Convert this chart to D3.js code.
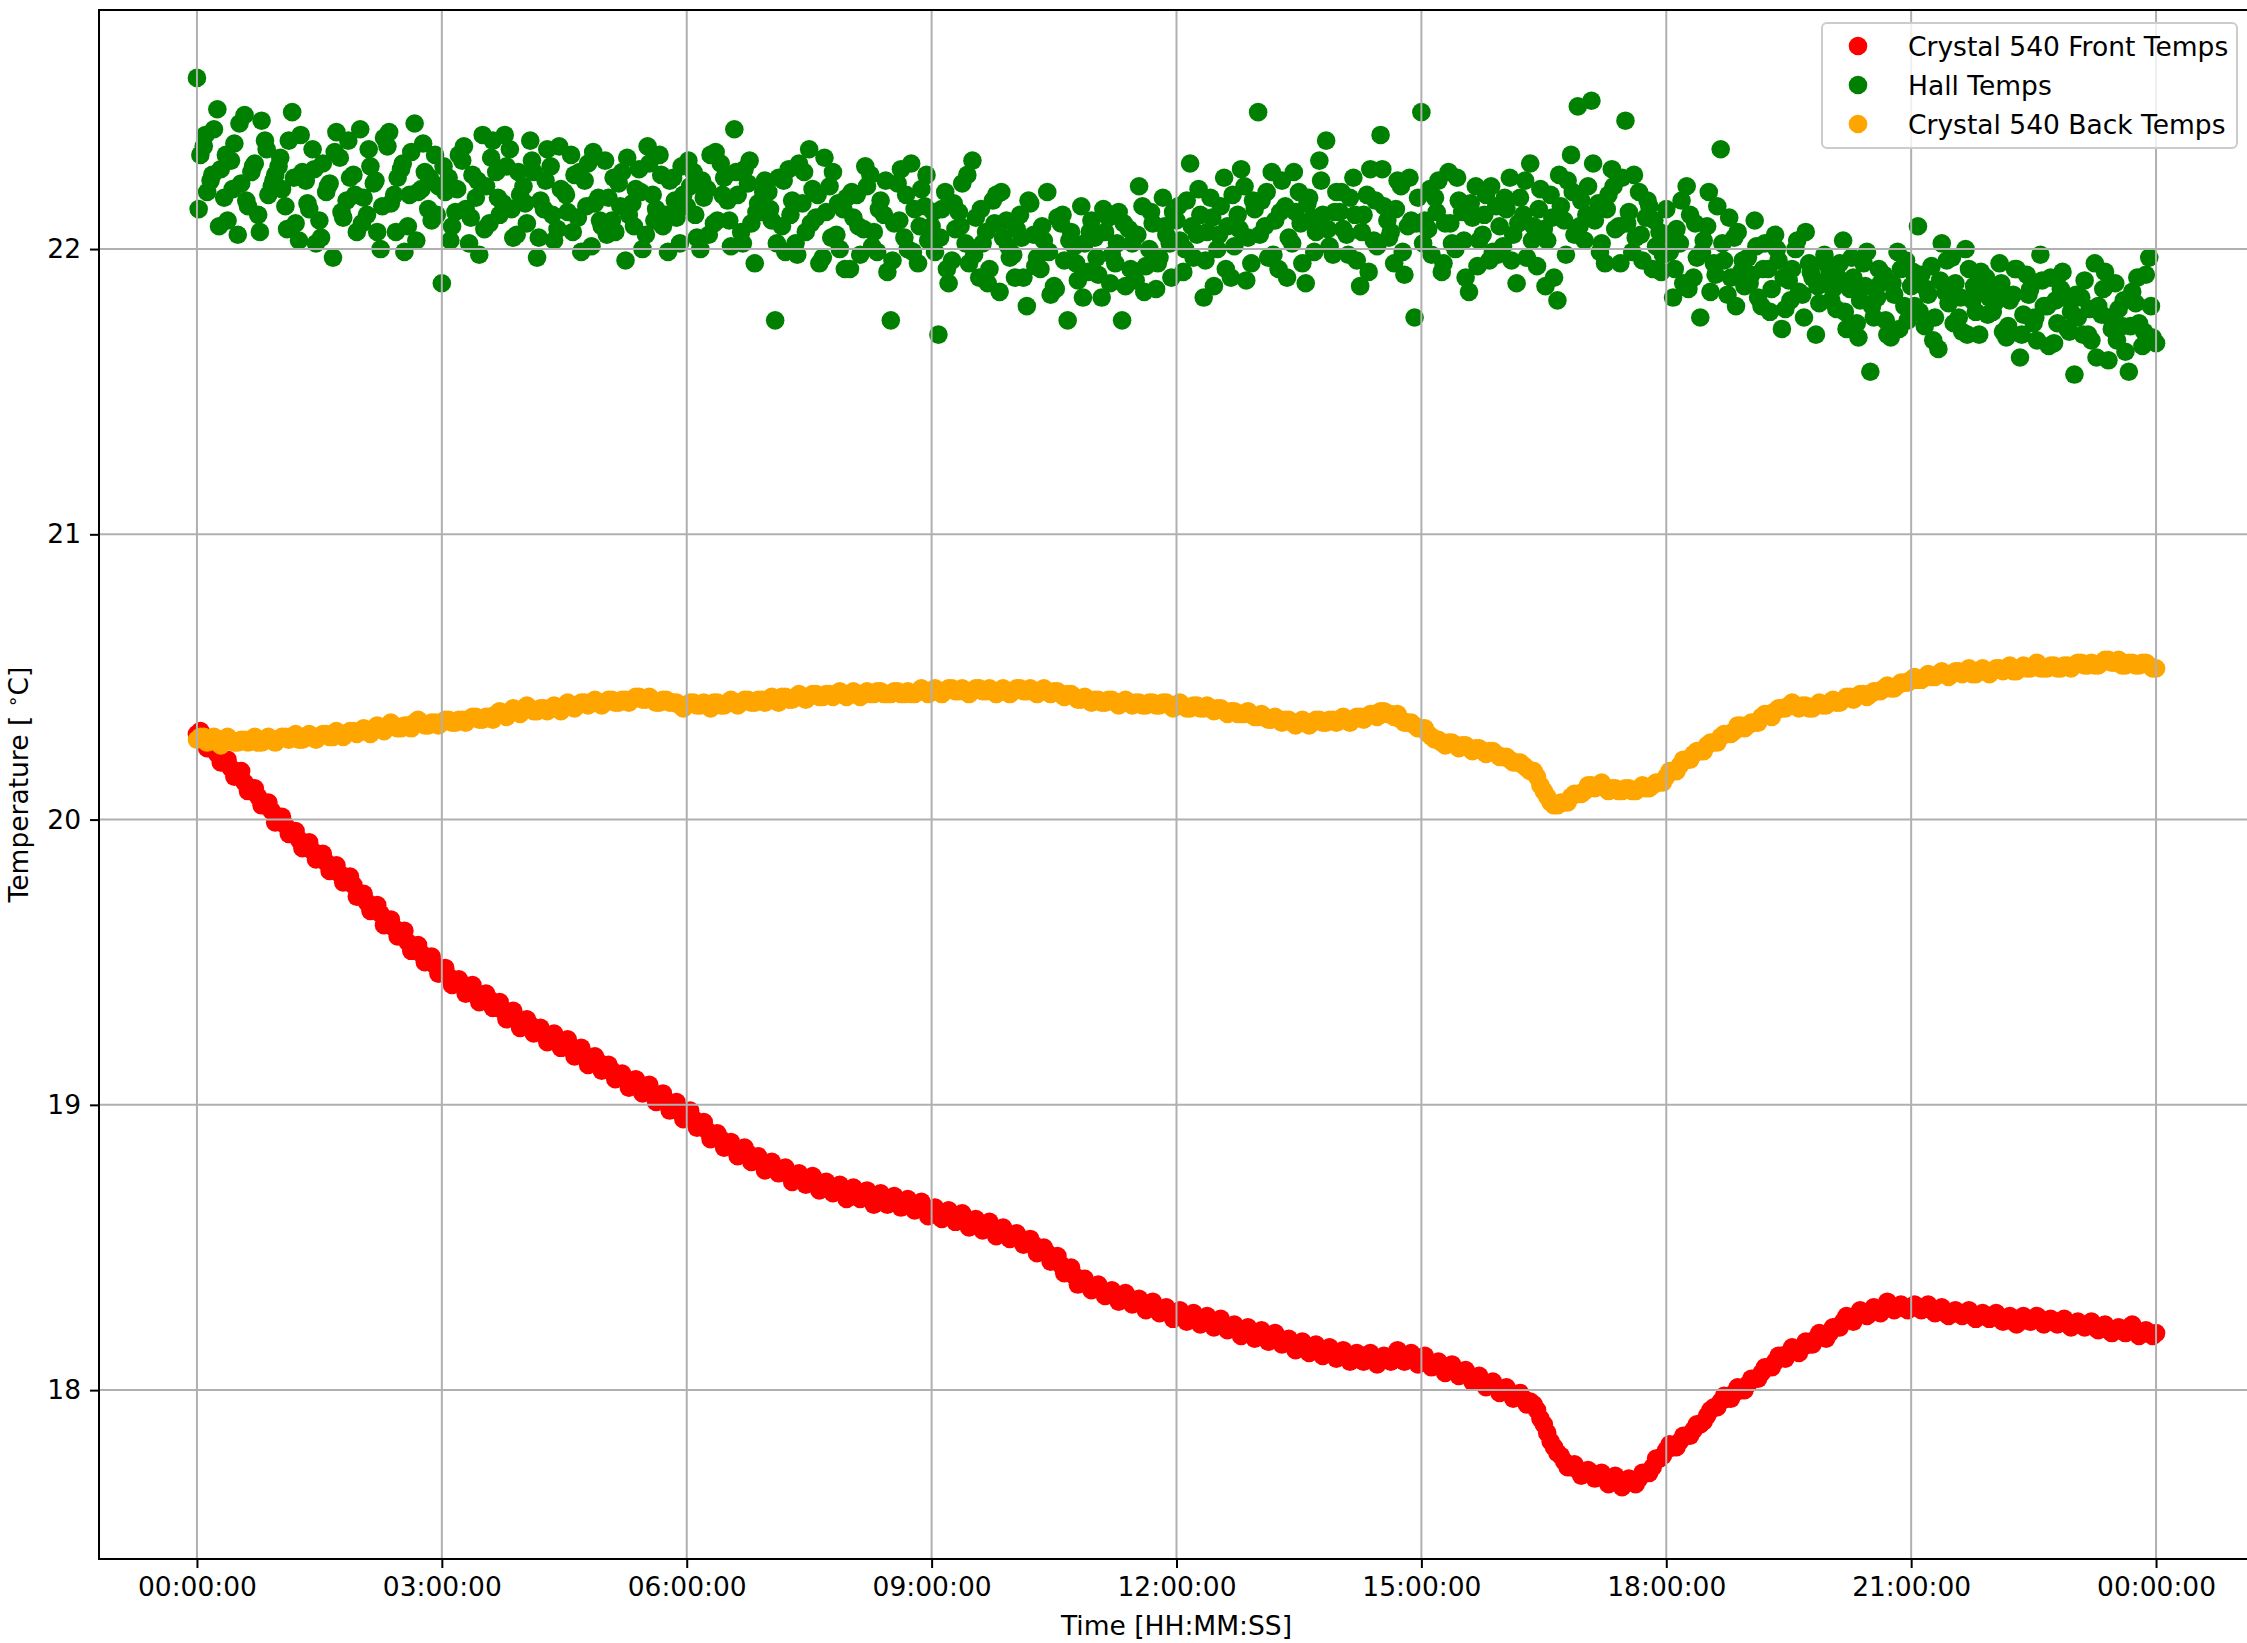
<!DOCTYPE html>
<html>
<head>
<meta charset="utf-8">
<script src="https://cdn.jsdelivr.net/npm/d3@7"></script>
<style>
  body { margin: 0; background: #fff; }
  svg { display: block; font-family: "DejaVu Sans", sans-serif; }
</style>
</head>
<body>
<div id="chart"></div>
<script>
// front crystal, one reading every 5 minutes, 00:00 -> 24:00 (one row per hour)
var frontTemps = [
  20.30, 20.28, 20.25, 20.23, 20.20, 20.18, 20.16, 20.13, 20.11, 20.08, 20.05, 20.03,
  20.00, 19.98, 19.95, 19.93, 19.91, 19.89, 19.87, 19.85, 19.83, 19.81, 19.79, 19.77,
  19.73, 19.71, 19.69, 19.67, 19.64, 19.62, 19.60, 19.57, 19.55, 19.53, 19.51, 19.49,
  19.47, 19.45, 19.43, 19.42, 19.41, 19.39, 19.38, 19.37, 19.35, 19.33, 19.32, 19.30,
  19.29, 19.28, 19.26, 19.25, 19.24, 19.23, 19.22, 19.20, 19.19, 19.17, 19.16, 19.15,
  19.13, 19.12, 19.10, 19.09, 19.08, 19.07, 19.06, 19.04, 19.03, 19.01, 19.00, 18.98,
  18.97, 18.95, 18.93, 18.91, 18.89, 18.88, 18.86, 18.85, 18.84, 18.83, 18.81, 18.80,
  18.79, 18.78, 18.77, 18.76, 18.75, 18.74, 18.74, 18.73, 18.72, 18.71, 18.70, 18.70,
  18.69, 18.69, 18.68, 18.68, 18.67, 18.67, 18.67, 18.66, 18.66, 18.65, 18.65, 18.64,
  18.63, 18.62, 18.62, 18.61, 18.60, 18.60, 18.59, 18.58, 18.57, 18.57, 18.56, 18.55,
  18.54, 18.53, 18.52, 18.51, 18.49, 18.48, 18.46, 18.44, 18.42, 18.40, 18.38, 18.37,
  18.36, 18.35, 18.34, 18.33, 18.32, 18.32, 18.31, 18.30, 18.30, 18.29, 18.28, 18.27,
  18.26, 18.26, 18.25, 18.25, 18.25, 18.24, 18.24, 18.23, 18.22, 18.21, 18.21, 18.20,
  18.20, 18.19, 18.18, 18.18, 18.17, 18.16, 18.16, 18.15, 18.15, 18.14, 18.14, 18.13,
  18.13, 18.12, 18.12, 18.12, 18.11, 18.11, 18.11, 18.11, 18.12, 18.12, 18.12, 18.11,
  18.11, 18.10, 18.09, 18.08, 18.07, 18.07, 18.06, 18.05, 18.04, 18.03, 18.02, 18.01,
  18.00, 17.99, 17.98, 17.97, 17.96, 17.93, 17.88, 17.82, 17.78, 17.75, 17.73, 17.72,
  17.71, 17.71, 17.70, 17.69, 17.69, 17.68, 17.68, 17.68, 17.69, 17.71, 17.73, 17.76,
  17.79, 17.80, 17.82, 17.84, 17.86, 17.88, 17.91, 17.94, 17.96, 17.97, 17.99, 18.00,
  18.02, 18.04, 18.06, 18.08, 18.10, 18.12, 18.13, 18.14, 18.15, 18.16, 18.18, 18.19,
  18.20, 18.22, 18.24, 18.25, 18.26, 18.27, 18.27, 18.28, 18.29, 18.29, 18.29, 18.29,
  18.29, 18.29, 18.29, 18.28, 18.28, 18.27, 18.27, 18.27, 18.27, 18.26, 18.26, 18.26,
  18.26, 18.25, 18.25, 18.24, 18.24, 18.25, 18.25, 18.25, 18.24, 18.24, 18.24, 18.23,
  18.23, 18.23, 18.23, 18.22, 18.22, 18.21, 18.21, 18.21, 18.22, 18.21, 18.20, 18.20,
  18.20
];
// front crystal, readings in between (2.5 minutes later)
var frontTempsMid = [
  20.31, 20.25, 20.26, 20.20, 20.21, 20.15, 20.17, 20.10, 20.11, 20.05, 20.06, 19.99,
  20.01, 19.95, 19.96, 19.90, 19.92, 19.86, 19.88, 19.82, 19.84, 19.78, 19.80, 19.73,
  19.74, 19.68, 19.70, 19.63, 19.65, 19.59, 19.61, 19.54, 19.56, 19.50, 19.52, 19.46,
  19.48, 19.42, 19.44, 19.39, 19.42, 19.36, 19.39, 19.34, 19.36, 19.30, 19.33, 19.27,
  19.30, 19.25, 19.27, 19.22, 19.25, 19.20, 19.23, 19.17, 19.20, 19.14, 19.17, 19.12,
  19.14, 19.09, 19.11, 19.06, 19.09, 19.04, 19.07, 19.01, 19.04, 18.98, 19.01, 18.95,
  18.98, 18.92, 18.94, 18.88, 18.90, 18.85, 18.87, 18.82, 18.85, 18.80, 18.82, 18.77,
  18.80, 18.76, 18.78, 18.73, 18.76, 18.72, 18.75, 18.70, 18.73, 18.69, 18.72, 18.67,
  18.71, 18.67, 18.70, 18.65, 18.69, 18.65, 18.68, 18.64, 18.67, 18.63, 18.66, 18.61,
  18.64, 18.60, 18.63, 18.59, 18.62, 18.57, 18.60, 18.56, 18.59, 18.54, 18.57, 18.53,
  18.55, 18.51, 18.53, 18.48, 18.50, 18.45, 18.47, 18.41, 18.43, 18.37, 18.39, 18.35,
  18.37, 18.33, 18.35, 18.31, 18.34, 18.30, 18.32, 18.28, 18.31, 18.27, 18.29, 18.25,
  18.28, 18.24, 18.27, 18.23, 18.26, 18.22, 18.25, 18.21, 18.23, 18.19, 18.22, 18.18,
  18.21, 18.17, 18.20, 18.16, 18.18, 18.14, 18.17, 18.13, 18.16, 18.12, 18.15, 18.11,
  18.14, 18.10, 18.13, 18.10, 18.13, 18.09, 18.12, 18.10, 18.14, 18.10, 18.13, 18.09,
  18.12, 18.08, 18.10, 18.06, 18.09, 18.05, 18.07, 18.03, 18.05, 18.01, 18.03, 17.99,
  18.01, 17.97, 17.99, 17.95, 17.95, 17.90, 17.85, 17.80, 17.77, 17.73, 17.74, 17.70,
  17.72, 17.69, 17.71, 17.67, 17.70, 17.66, 17.69, 17.67, 17.71, 17.71, 17.76, 17.77,
  17.81, 17.80, 17.84, 17.84, 17.88, 17.89, 17.93, 17.94, 17.98, 17.97, 18.01, 18.00,
  18.04, 18.04, 18.08, 18.08, 18.12, 18.11, 18.15, 18.13, 18.17, 18.16, 18.20, 18.18,
  18.22, 18.22, 18.26, 18.24, 18.28, 18.26, 18.29, 18.27, 18.31, 18.28, 18.30, 18.28,
  18.30, 18.28, 18.30, 18.27, 18.29, 18.26, 18.28, 18.26, 18.28, 18.25, 18.27, 18.25,
  18.27, 18.24, 18.26, 18.23, 18.26, 18.24, 18.26, 18.23, 18.25, 18.23, 18.25, 18.22,
  18.24, 18.22, 18.24, 18.21, 18.23, 18.20, 18.22, 18.20, 18.23, 18.19, 18.21, 18.19
];

// back crystal, every 5 minutes
var backTemps = [
  20.28, 20.29, 20.28, 20.27, 20.28, 20.28, 20.27, 20.28, 20.28, 20.27, 20.28, 20.28,
  20.28, 20.29, 20.29, 20.28, 20.29, 20.29, 20.29, 20.30, 20.29, 20.30, 20.30, 20.31,
  20.31, 20.31, 20.32, 20.32, 20.33, 20.33, 20.32, 20.33, 20.34, 20.34, 20.33, 20.34,
  20.34, 20.35, 20.34, 20.35, 20.35, 20.36, 20.35, 20.36, 20.37, 20.37, 20.38, 20.38,
  20.39, 20.39, 20.38, 20.39, 20.39, 20.39, 20.40, 20.40, 20.40, 20.41, 20.41, 20.41,
  20.41, 20.42, 20.41, 20.42, 20.42, 20.43, 20.42, 20.42, 20.41, 20.42, 20.41, 20.40,
  20.40, 20.41, 20.40, 20.40, 20.41, 20.40, 20.41, 20.41, 20.41, 20.42, 20.41, 20.42,
  20.42, 20.42, 20.43, 20.42, 20.43, 20.43, 20.43, 20.44, 20.43, 20.44, 20.44, 20.44,
  20.44, 20.44, 20.44, 20.44, 20.45, 20.44, 20.44, 20.45, 20.44, 20.44, 20.45, 20.45,
  20.45, 20.45, 20.45, 20.46, 20.45, 20.45, 20.45, 20.46, 20.45, 20.45, 20.45, 20.45,
  20.45, 20.46, 20.45, 20.45, 20.45, 20.45, 20.45, 20.44, 20.44, 20.43, 20.42, 20.42,
  20.42, 20.41, 20.42, 20.41, 20.41, 20.41, 20.41, 20.40, 20.41, 20.40, 20.41, 20.40,
  20.40, 20.40, 20.39, 20.40, 20.39, 20.39, 20.39, 20.38, 20.38, 20.37, 20.37, 20.37,
  20.36, 20.36, 20.35, 20.35, 20.35, 20.34, 20.34, 20.34, 20.34, 20.35, 20.34, 20.35,
  20.35, 20.35, 20.35, 20.36, 20.36, 20.37, 20.38, 20.37, 20.36, 20.35, 20.34, 20.33,
  20.32, 20.30, 20.28, 20.27, 20.27, 20.26, 20.26, 20.25, 20.25, 20.24, 20.24, 20.23,
  20.22, 20.21, 20.20, 20.19, 20.17, 20.15, 20.10, 20.06, 20.05, 20.06, 20.08, 20.09,
  20.10, 20.12, 20.12, 20.11, 20.11, 20.10, 20.11, 20.10, 20.11, 20.11, 20.12, 20.13,
  20.15, 20.17, 20.19, 20.21, 20.23, 20.24, 20.26, 20.27, 20.29, 20.30, 20.31, 20.33,
  20.33, 20.34, 20.36, 20.37, 20.38, 20.39, 20.40, 20.40, 20.40, 20.39, 20.40, 20.40,
  20.41, 20.41, 20.42, 20.43, 20.43, 20.44, 20.44, 20.45, 20.46, 20.46, 20.47, 20.48,
  20.49, 20.49, 20.50, 20.50, 20.51, 20.51, 20.51, 20.52, 20.52, 20.51, 20.52, 20.52,
  20.52, 20.53, 20.53, 20.52, 20.53, 20.53, 20.54, 20.53, 20.53, 20.54, 20.53, 20.54,
  20.54, 20.55, 20.54, 20.54, 20.55, 20.56, 20.55, 20.54, 20.55, 20.54, 20.55, 20.54,
  20.53
];
// back crystal, readings in between
var backTempsMid = [
  20.29, 20.27, 20.29, 20.26, 20.29, 20.27, 20.28, 20.27, 20.29, 20.27, 20.29, 20.27,
  20.29, 20.28, 20.30, 20.28, 20.30, 20.28, 20.30, 20.29, 20.31, 20.29, 20.31, 20.30,
  20.32, 20.30, 20.33, 20.31, 20.34, 20.32, 20.33, 20.32, 20.35, 20.33, 20.34, 20.33,
  20.35, 20.34, 20.35, 20.34, 20.36, 20.35, 20.36, 20.35, 20.38, 20.36, 20.39, 20.37,
  20.40, 20.38, 20.39, 20.38, 20.40, 20.38, 20.41, 20.39, 20.41, 20.40, 20.42, 20.40,
  20.42, 20.41, 20.42, 20.41, 20.43, 20.42, 20.43, 20.41, 20.42, 20.41, 20.41, 20.39,
  20.41, 20.40, 20.41, 20.39, 20.41, 20.40, 20.42, 20.40, 20.42, 20.41, 20.42, 20.41,
  20.43, 20.41, 20.43, 20.42, 20.44, 20.42, 20.44, 20.43, 20.44, 20.43, 20.45, 20.43,
  20.45, 20.43, 20.45, 20.44, 20.45, 20.44, 20.45, 20.44, 20.45, 20.44, 20.46, 20.44,
  20.46, 20.44, 20.46, 20.45, 20.46, 20.44, 20.46, 20.45, 20.46, 20.44, 20.46, 20.44,
  20.46, 20.45, 20.46, 20.44, 20.46, 20.44, 20.45, 20.43, 20.44, 20.42, 20.43, 20.41,
  20.42, 20.41, 20.42, 20.40, 20.42, 20.40, 20.41, 20.40, 20.41, 20.40, 20.41, 20.39,
  20.41, 20.39, 20.40, 20.39, 20.40, 20.38, 20.39, 20.37, 20.38, 20.37, 20.38, 20.36,
  20.37, 20.35, 20.36, 20.34, 20.35, 20.33, 20.35, 20.33, 20.35, 20.34, 20.35, 20.34,
  20.36, 20.34, 20.36, 20.35, 20.37, 20.36, 20.38, 20.37, 20.37, 20.34, 20.34, 20.32,
  20.32, 20.29, 20.28, 20.26, 20.27, 20.25, 20.26, 20.24, 20.25, 20.23, 20.24, 20.22,
  20.22, 20.20, 20.20, 20.18, 20.17, 20.12, 20.08, 20.05, 20.06, 20.06, 20.09, 20.09,
  20.12, 20.11, 20.13, 20.10, 20.11, 20.10, 20.11, 20.10, 20.12, 20.11, 20.13, 20.13,
  20.17, 20.17, 20.21, 20.21, 20.24, 20.24, 20.27, 20.27, 20.30, 20.30, 20.33, 20.32,
  20.34, 20.34, 20.37, 20.36, 20.39, 20.39, 20.41, 20.39, 20.40, 20.39, 20.41, 20.40,
  20.42, 20.41, 20.43, 20.42, 20.44, 20.43, 20.45, 20.45, 20.47, 20.46, 20.48, 20.48,
  20.50, 20.49, 20.51, 20.50, 20.52, 20.50, 20.52, 20.51, 20.53, 20.51, 20.53, 20.51,
  20.53, 20.52, 20.54, 20.52, 20.54, 20.53, 20.55, 20.53, 20.54, 20.53, 20.54, 20.53,
  20.55, 20.54, 20.55, 20.54, 20.56, 20.55, 20.56, 20.54, 20.55, 20.54, 20.55, 20.53
];

// hall sensor, on the 5 minute marks
var hallTempsA = [
  22.60, 22.36, 22.24, 22.49, 22.18, 22.31, 22.05, 22.47, 22.27, 22.12, 22.38, 22.22,
  22.29, 22.15, 22.48, 22.03, 22.24, 22.35, 22.10, 22.20, 21.97, 22.32, 22.17, 22.26,
  22.42, 22.12, 22.23, 22.00, 22.36, 22.19, 22.28, 22.08, 22.44, 22.21, 22.14, 22.33,
  21.88, 22.25, 22.13, 22.31, 22.02, 22.18, 22.40, 22.09, 22.27, 22.16, 22.35, 22.05,
  22.22, 22.38, 21.97, 22.14, 22.29, 22.07, 22.20, 22.33, 22.11, 22.24, 22.01, 22.18,
  22.31, 22.10, 22.23, 21.96, 22.16, 22.28, 22.05, 22.19, 22.33, 22.12, 22.25, 22.02,
  22.15, 22.27, 22.00, 22.21, 22.09, 22.30, 22.17, 22.42, 22.06, 22.23, 21.95, 22.13,
  22.20, 21.75, 22.08, 22.28, 22.02, 22.16, 22.35, 22.11, 21.97, 22.22, 22.05, 22.14,
  21.93, 22.19, 22.07, 22.26, 21.99, 22.12, 21.75, 22.23, 22.04, 22.30, 21.95, 22.15,
  22.08, 21.70, 22.20, 21.96, 22.13, 22.02, 22.31, 21.90, 22.06, 22.17, 21.85, 22.10,
  21.98, 22.12, 21.80, 22.05, 21.93, 22.20, 21.87, 22.09, 21.75, 22.01, 22.15, 21.92,
  22.04, 21.83, 22.11, 21.95, 21.75, 22.07, 21.89, 22.15, 22.00, 21.86, 22.18, 22.02,
  22.10, 21.92, 22.30, 22.05, 21.83, 22.18, 22.00, 22.25, 21.90, 22.12, 22.22, 21.95,
  22.48, 22.08, 22.27, 21.93, 22.15, 22.02, 22.20, 21.88, 22.11, 22.31, 22.38, 21.98,
  22.13, 22.05, 22.25, 21.87, 22.19, 22.03, 22.40, 22.10, 21.95, 22.22, 22.08, 21.76,
  22.48, 22.07, 22.18, 21.92, 22.27, 22.00, 22.13, 21.85, 22.22, 22.05, 21.96, 22.15,
  22.01, 22.25, 21.88, 22.12, 22.30, 21.94, 22.07, 22.19, 21.82, 22.10, 22.33, 22.50,
  22.03, 22.52, 22.16, 21.95, 22.28, 22.08, 22.45, 21.99, 22.20, 22.11, 21.93, 22.06,
  22.14, 21.83, 22.02, 22.22, 21.90, 21.76, 22.08, 21.95, 22.35, 21.84, 22.04, 21.92,
  21.97, 22.10, 21.80, 21.93, 22.05, 21.72, 21.89, 22.00, 21.84, 21.95, 21.70, 21.88,
  21.92, 21.79, 22.03, 21.86, 21.74, 21.95, 21.57, 21.83, 21.91, 21.69, 21.99, 21.80,
  21.87, 22.08, 21.73, 21.94, 21.65, 21.85, 21.97, 21.76, 22.00, 21.82, 21.70, 21.90,
  21.78, 21.95, 21.69, 21.84, 21.62, 21.91, 21.74, 21.98, 21.80, 21.67, 21.86, 21.72,
  21.56, 21.83, 21.70, 21.95, 21.77, 21.61, 21.88, 21.73, 21.57, 21.81, 21.66, 21.97,
  21.67
];
// hall sensor, 2.5 minutes after the marks
var hallTempsB = [
  22.33, 22.20, 22.42, 22.28, 22.10, 22.37, 22.23, 22.15, 22.30, 22.45, 22.19, 22.26,
  22.21, 22.38, 22.09, 22.27, 22.14, 22.02, 22.30, 22.23, 22.41, 22.11, 22.25, 22.06,
  22.18, 22.29, 22.06, 22.39, 22.16, 22.25, 21.99, 22.34, 22.20, 22.27, 22.10, 22.22,
  22.20, 22.08, 22.33, 22.14, 22.26, 21.98, 22.22, 22.38, 22.12, 22.29, 22.04, 22.19,
  22.09, 22.27, 22.17, 22.35, 22.03, 22.21, 22.13, 22.26, 21.99, 22.30, 22.16, 22.08,
  22.18, 22.06, 22.27, 22.12, 22.21, 22.00, 22.30, 22.14, 22.08, 22.24, 22.11, 22.19,
  22.22, 22.04, 22.18, 22.33, 22.10, 22.25, 22.01, 22.19, 22.28, 22.09, 22.16, 22.24,
  22.10, 22.25, 21.99, 22.17, 22.30, 22.06, 22.21, 21.95, 22.13, 22.27, 22.00, 22.18,
  22.11, 21.98, 22.22, 22.06, 22.17, 21.92, 22.09, 22.28, 22.00, 22.14, 22.21, 22.03,
  21.99, 22.14, 21.88, 22.07, 22.23, 21.95, 22.11, 22.02, 21.93, 22.19, 22.04, 21.97,
  22.07, 21.90, 22.16, 21.97, 22.03, 21.84, 22.11, 21.96, 22.06, 21.89, 22.02, 22.10,
  21.91, 22.06, 21.98, 22.13, 21.87, 22.02, 22.22, 21.94, 22.09, 21.97, 22.05, 22.13,
  22.03, 22.17, 21.97, 22.12, 22.06, 21.87, 22.15, 22.08, 22.01, 22.28, 22.04, 22.14,
  22.17, 21.97, 22.10, 22.24, 22.04, 22.13, 21.95, 22.18, 22.06, 22.12, 22.01, 22.20,
  22.07, 22.18, 21.96, 22.12, 22.28, 22.01, 22.15, 22.06, 22.24, 21.91, 22.10, 22.18,
  22.10, 21.98, 22.24, 22.09, 22.02, 22.17, 21.90, 22.11, 22.03, 22.19, 21.99, 22.08,
  22.14, 22.05, 22.18, 21.97, 22.08, 22.21, 22.03, 21.90, 22.15, 22.24, 22.05, 22.17,
  22.22, 22.10, 22.02, 22.19, 22.07, 22.25, 22.13, 22.04, 21.96, 22.15, 22.01, 21.98,
  21.99, 22.07, 21.88, 22.12, 21.97, 22.03, 21.85, 22.15, 21.96, 21.90, 22.06, 21.87,
  21.91, 21.83, 22.02, 21.86, 21.96, 21.79, 21.93, 21.85, 22.06, 21.90, 21.81, 21.95,
  21.86, 21.95, 21.72, 21.90, 21.82, 21.99, 21.76, 21.88, 21.70, 21.84, 21.93, 21.75,
  21.80, 21.91, 21.84, 21.76, 22.02, 21.81, 21.88, 21.71, 21.93, 21.78, 21.86, 21.83,
  21.85, 21.71, 21.82, 21.93, 21.77, 21.86, 21.68, 21.80, 21.90, 21.74, 21.83, 21.78,
  21.76, 21.89, 21.68, 21.80, 21.92, 21.72, 21.79, 21.64, 21.85, 21.74, 21.91, 21.69
];
// hall sensor, 1.25 minutes after the marks
var hallTempsC = [
  22.14, 22.40, 22.26, 22.08, 22.33, 22.21, 22.44, 22.17, 22.29, 22.06, 22.35, 22.24,
  22.32, 22.07, 22.25, 22.40, 22.16, 22.28, 22.04, 22.22, 22.34, 22.13, 22.38, 22.19,
  22.09, 22.35, 22.24, 22.15, 22.41, 22.06, 22.30, 22.19, 22.03, 22.37, 22.25, 22.12,
  22.29, 22.03, 22.21, 22.36, 22.11, 22.24, 22.07, 22.32, 22.18, 22.40, 22.14, 22.27,
  22.16, 22.31, 22.04, 22.24, 22.12, 22.36, 22.19, 22.06, 22.27, 22.15, 22.34, 22.10,
  22.05, 22.25, 22.15, 22.32, 22.08, 22.20, 22.36, 22.10, 22.26, 21.99, 22.17, 22.29,
  22.31, 22.12, 22.24, 22.05, 22.34, 22.19, 22.10, 22.27, 22.02, 22.31, 22.13, 22.20,
  22.14, 22.02, 22.24, 22.12, 21.98, 22.27, 22.09, 22.19, 22.32, 22.04, 22.16, 21.93,
  22.20, 22.08, 22.29, 22.01, 22.14, 22.24, 21.96, 22.10, 22.19, 21.99, 22.08, 22.26,
  22.13, 22.04, 21.93, 22.16, 22.08, 22.26, 21.98, 22.14, 21.88, 22.09, 22.20, 22.01,
  21.90, 22.04, 22.17, 21.94, 22.08, 21.99, 21.86, 22.12, 22.03, 21.95, 21.83, 22.06,
  21.97, 22.14, 21.88, 22.02, 22.09, 21.93, 22.05, 21.85, 22.13, 21.95, 22.08, 21.90,
  22.15, 22.00, 22.08, 22.21, 21.96, 22.11, 22.05, 21.93, 22.19, 22.07, 21.89, 22.17,
  22.05, 22.20, 21.98, 22.13, 21.90, 22.27, 22.09, 22.16, 21.99, 22.24, 22.07, 22.13,
  22.20, 21.98, 22.12, 22.06, 21.92, 22.17, 22.28, 22.04, 22.14, 21.99, 22.25, 22.09,
  22.02, 22.21, 22.13, 21.95, 22.09, 22.25, 22.03, 22.16, 21.94, 22.12, 22.22, 21.98,
  22.18, 21.96, 22.09, 22.24, 22.03, 22.14, 21.87, 22.11, 22.26, 21.98, 22.20, 22.08,
  22.12, 22.30, 21.99, 22.14, 22.22, 21.95, 22.09, 22.26, 22.05, 22.17, 22.10, 21.92,
  22.05, 21.93, 22.17, 21.86, 22.09, 21.99, 22.20, 21.91, 22.02, 22.11, 21.80, 21.96,
  21.88, 22.01, 21.93, 21.78, 22.00, 21.90, 21.82, 22.03, 21.76, 21.92, 21.87, 21.98,
  21.82, 21.90, 21.78, 21.97, 21.69, 21.87, 21.80, 21.93, 21.75, 21.88, 21.72, 21.96,
  21.92, 21.78, 21.86, 21.68, 21.89, 21.96, 21.74, 21.83, 21.70, 21.87, 21.92, 21.77,
  21.81, 21.88, 21.73, 21.93, 21.70, 21.84, 21.76, 21.89, 21.66, 21.82, 21.92, 21.71,
  21.84, 21.70, 21.79, 21.62, 21.86, 21.76, 21.68, 21.82, 21.73, 21.90, 21.71, 21.80
];

var xTickHours = [0, 3, 6, 9, 12, 15, 18, 21, 24];
var yTicks = [18, 19, 20, 21, 22];
var seriesNames = ["Crystal 540 Front Temps", "Hall Temps", "Crystal 540 Back Temps"];
var seriesColors = ["#ff0000", "#008000", "#ffa500"];

var W = 2247, H = 1643;
var plotL = 99, plotT = 10, plotR = 2254, plotB = 1559;
var HOUR = 3600000, STEP = 5 * 60000;
var t0 = Date.UTC(2000, 0, 1);
var fontSize = "26.5px";

var svg = d3.select("#chart").append("svg")
    .attr("width", W)
    .attr("height", H);
svg.append("rect").attr("width", W).attr("height", H).attr("fill", "#fff");

var x = d3.scaleUtc()
    .domain([new Date(t0 - 1.2 * HOUR), new Date(t0 + 25.2 * HOUR)])
    .range([plotL, plotR]);
var y = d3.scaleLinear()
    .domain([17.408, 22.838])
    .range([plotB, plotT]);

function toPoints(vals, offset){
  return vals.map(function(v, i){ return { t: new Date(t0 + i * STEP + offset), v: v }; });
}

var series = [
  toPoints(frontTemps, 0).concat(toPoints(frontTempsMid, STEP / 2)),
  toPoints(hallTempsA, 0).concat(toPoints(hallTempsB, STEP / 2), toPoints(hallTempsC, STEP / 4)),
  toPoints(backTemps, 0).concat(toPoints(backTempsMid, STEP / 2))
];

var r = 9.3;
var plot = svg.append("g");
series.forEach(function(pts, k){
  plot.append("g")
    .selectAll("circle")
    .data(pts)
    .enter()
    .append("circle")
    .attr("cx", function(d){ return x(d.t); })
    .attr("cy", function(d){ return y(d.v); })
    .attr("r", r)
    .attr("fill", seriesColors[k]);
});

// grid lines sit above the markers, like matplotlib's default
var xTicks = xTickHours.map(function(h){ return new Date(t0 + h * HOUR); });
var grid = svg.append("g").attr("stroke", "#b0b0b0").attr("stroke-width", 2);
grid.selectAll(".vx").data(xTicks).enter().append("line")
    .attr("x1", function(d){ return x(d); }).attr("x2", function(d){ return x(d); })
    .attr("y1", plotT).attr("y2", plotB);
grid.selectAll(".hy").data(yTicks).enter().append("line")
    .attr("y1", function(d){ return y(d); }).attr("y2", function(d){ return y(d); })
    .attr("x1", plotL).attr("x2", plotR);

// axes
var xAxis = d3.axisBottom(x)
    .tickValues(xTicks)
    .tickFormat(d3.utcFormat("%H:%M:%S"))
    .tickSize(9)
    .tickPadding(9);
var yAxis = d3.axisLeft(y)
    .tickValues(yTicks)
    .tickFormat(d3.format("d"))
    .tickSize(9)
    .tickPadding(9);

var gx = svg.append("g").attr("transform", "translate(0," + plotB + ")").call(xAxis);
var gy = svg.append("g").attr("transform", "translate(" + plotL + ",0)").call(yAxis);
[gx, gy].forEach(function(g){
  g.select(".domain").remove();
  g.selectAll(".tick line").attr("stroke", "#000").attr("stroke-width", 2);
  g.selectAll(".tick text")
    .attr("fill", "#000")
    .style("font-family", "'DejaVu Sans', sans-serif")
    .style("font-size", fontSize);
});

// spines
var spines = svg.append("g").attr("stroke", "#000").attr("stroke-width", 2).attr("fill", "none");
spines.append("line").attr("x1", plotL).attr("x2", plotL).attr("y1", plotT - 1).attr("y2", plotB + 1);
spines.append("line").attr("x1", plotL - 1).attr("x2", plotR).attr("y1", plotT).attr("y2", plotT);
spines.append("line").attr("x1", plotL - 1).attr("x2", plotR).attr("y1", plotB).attr("y2", plotB);
spines.append("line").attr("x1", plotR).attr("x2", plotR).attr("y1", plotT).attr("y2", plotB);

// axis labels
svg.append("text")
    .attr("x", (plotL + plotR) / 2)
    .attr("y", 1635)
    .attr("text-anchor", "middle")
    .style("font-size", fontSize)
    .text("Time [HH:MM:SS]");

var ylab = svg.append("text")
    .attr("transform", "translate(28," + ((plotT + plotB) / 2) + ") rotate(-90)")
    .attr("text-anchor", "middle")
    .style("font-size", fontSize);
ylab.append("tspan").text("Temperature [ ");
ylab.append("tspan").attr("dy", -9).style("font-size", "19px").text("\u2218");
ylab.append("tspan").attr("dy", 9).text("C]");

// legend
var lg = svg.append("g");
lg.append("rect")
    .attr("x", 1822).attr("y", 23)
    .attr("width", 415).attr("height", 125)
    .attr("rx", 5)
    .attr("fill", "#fff").attr("fill-opacity", 0.8)
    .attr("stroke", "#cccccc").attr("stroke-width", 2);
var rows = [46, 85, 124];
seriesNames.forEach(function(name, k){
  lg.append("circle")
    .attr("cx", 1858).attr("cy", rows[k])
    .attr("r", r).attr("fill", seriesColors[k]);
  lg.append("text")
    .attr("x", 1908).attr("y", rows[k])
    .attr("dy", "0.36em")
    .style("font-size", fontSize)
    .text(name);
});
</script>
</body>
</html>
